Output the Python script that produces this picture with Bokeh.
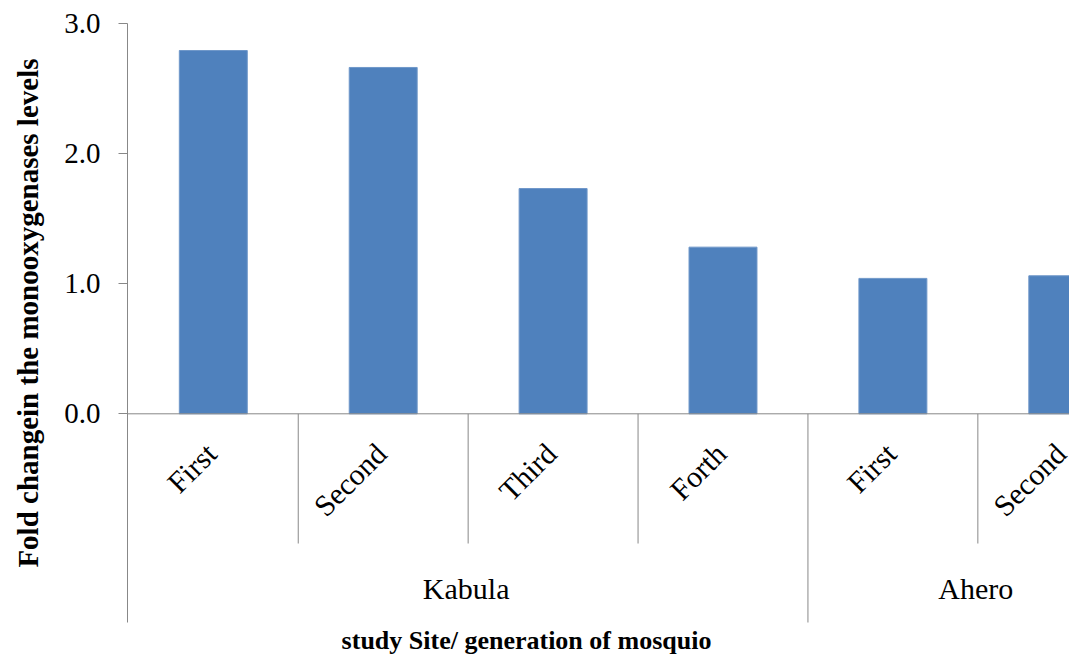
import math

from bokeh.core.properties import value
from bokeh.embed import file_html
from bokeh.layouts import row
from bokeh.models import FixedTicker, PrintfTickFormatter, Range1d, Span, ColumnDataSource
from bokeh.plotting import figure
from bokeh.resources import INLINE

# Fold change in monooxygenase levels by study site and mosquito generation
sites = ["Kabula", "Kabula", "Kabula", "Kabula", "Ahero", "Ahero"]
generations = ["First", "Second", "Third", "Forth", "First", "Second"]
fold_change = [2.79, 2.66, 1.73, 1.28, 1.04, 1.06]
y_ticks = [0.0, 1.0, 2.0, 3.0]

W, H = 1069, 656
TITLE_W = 50            # strip on the left holding the vertical axis title
FRAME_L, FRAME_T = 127, 20
CAT_PX = 169.9          # width of one category slot in pixels
UNIT_PX = 130.2         # pixels per 1.0 on the value axis
ZERO_PX = 413.3         # pixel row of the value 0.0

x_start = -0.505
x_end = x_start + (W - FRAME_L) / CAT_PX
y_end = (ZERO_PX - FRAME_T) / UNIT_PX
y_start = -(H - ZERO_PX) / UNIT_PX


def dx(px):
    return x_start + (px - FRAME_L) / CAT_PX


def dy(py):
    return (ZERO_PX - py) / UNIT_PX


SERIF = "Liberation Serif"
AXIS_GREY = "#888888"
BAR_BLUE = "#4F81BD"

# --- vertical axis title strip ---
t = figure(width=TITLE_W, height=H, output_backend="svg", toolbar_location=None,
           x_range=Range1d(0, TITLE_W), y_range=Range1d(H, 0),
           x_axis_location=None, y_axis_location=None,
           min_border_left=0, min_border_right=0, min_border_top=0, min_border_bottom=0)
t.outline_line_color = None
t.grid.visible = False
t.text(x=[27], y=[298], text=["Fold changein the monooxygenases  levels"],
       angle=math.pi / 2, text_align="center", text_baseline="middle",
       text_font=value(SERIF), text_font_size="29px", text_font_style="bold",
       text_color="black")

# --- main chart ---
p = figure(width=W - TITLE_W, height=H, output_backend="svg", toolbar_location=None,
           x_range=(x_start, x_end), y_range=(y_start, y_end),
           x_axis_location=None,
           min_border_left=FRAME_L - TITLE_W, min_border_top=FRAME_T,
           min_border_right=0, min_border_bottom=0)
p.outline_line_color = None
p.grid.visible = False

xs = list(range(len(generations)))
src = ColumnDataSource(dict(x=xs, top=fold_change))
p.vbar(x="x", top="top", width=0.4, bottom=0, source=src,
       fill_color=BAR_BLUE, line_color="#6f97c9", line_width=1)

# value axis; its line runs on down through the category band
ax = p.yaxis[0]
ax.ticker = FixedTicker(ticks=y_ticks)
ax.formatter = PrintfTickFormatter(format="%.1f")
ax.bounds = (dy(622), y_ticks[-1])
ax.axis_line_color = AXIS_GREY
ax.major_tick_line_color = AXIS_GREY
ax.major_tick_out = 9
ax.major_tick_in = 0
ax.minor_tick_line_color = None
ax.major_label_standoff = 18
ax.major_label_text_font = SERIF
ax.major_label_text_font_size = "29px"
ax.major_label_text_color = "black"

# category axis line at zero
p.add_layout(Span(location=0, dimension="width", line_color=AXIS_GREY, line_width=1))

# separators between categories: short inside a site, long between sites
sep_x, sep_y1 = [], []
for i in range(len(generations)):
    nxt = sites[i + 1] if i + 1 < len(sites) else None
    sep_x.append(i + 0.5)
    sep_y1.append(dy(543) if nxt == sites[i] else dy(622))
p.segment(x0=sep_x, y0=[0] * len(sep_x), x1=sep_x, y1=sep_y1,
          line_color=AXIS_GREY, line_width=1)

# rotated generation labels
p.text(x=[x - 2 / CAT_PX for x in xs], y=[dy(448)] * len(xs), text=generations,
       angle=math.pi / 4, text_align="right", text_baseline="middle",
       text_font=value(SERIF), text_font_size="30px", text_color="black")

# site labels centred under their groups
group_names, group_x = [], []
for s in dict.fromkeys(sites):
    idx = [i for i, v in enumerate(sites) if v == s]
    group_names.append(s)
    group_x.append(sum(idx) / len(idx))
p.text(x=[g - 2 / CAT_PX for g in group_x], y=[dy(588)] * len(group_x), text=group_names,
       text_align="center", text_baseline="middle",
       text_font=value(SERIF), text_font_size="30px", text_color="black")

# horizontal axis title
p.text(x=[dx(526)], y=[dy(640)], text=["study Site/ generation of mosquio"],
       text_align="center", text_baseline="middle",
       text_font=value(SERIF), text_font_size="26px", text_font_style="bold",
       text_color="black")

layout = row(t, p, spacing=0)
open("out.html", "w").write(file_html(layout, INLINE))
